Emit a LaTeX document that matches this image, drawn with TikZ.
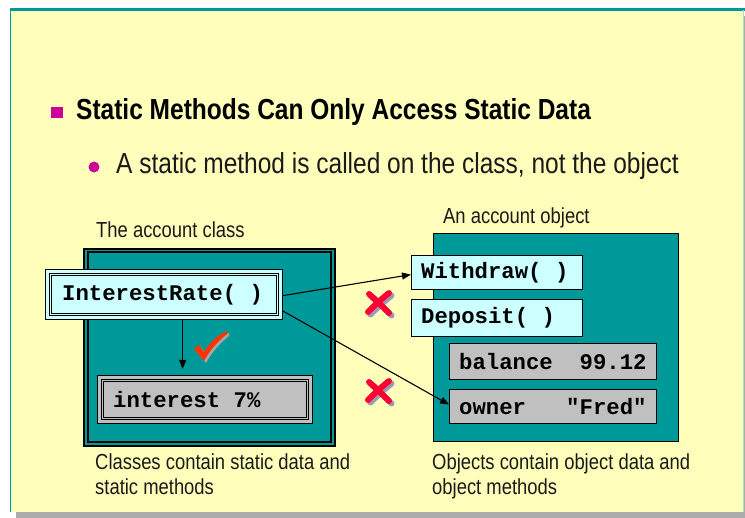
\documentclass[tikz,border=0pt]{standalone}
\usepackage{fontspec}
\setmainfont{Liberation Sans}[FakeStretch=0.845]
\setmonofont{Liberation Mono}
\usetikzlibrary{arrows.meta}
\definecolor{bg}{HTML}{FFFFBB}
\definecolor{tealc}{HTML}{009999}
\definecolor{cyanbox}{HTML}{CCFFFF}
\definecolor{graybox}{HTML}{C0C0C0}
\definecolor{mag}{HTML}{CC0099}
\definecolor{txt}{HTML}{1A1A1A}
\definecolor{xred}{HTML}{FF0033}
\definecolor{chk}{HTML}{FF3300}
\definecolor{xshadow}{HTML}{9A9AB8}
\tikzset{
  lbl/.style={anchor=base west, inner sep=0, text=txt, font=\fontsize{21.8}{24}\selectfont},
  mono/.style={anchor=west, inner sep=0, text=black, font=\ttfamily\bfseries\fontsize{22.3}{24}\selectfont},
  cbox/.style={draw=black, line width=1.2, fill=cyanbox, anchor=north west, inner sep=0},
  gbox/.style={draw=black, line width=1.2, fill=graybox, anchor=north west, inner sep=0},
  arr/.style={draw=black, line width=1.1, -{Triangle[length=9,width=7]}},
  xmark/.style={line width=6, line cap=round},
}
\begin{document}
\begin{tikzpicture}[x=1pt,y=-1pt]
\useasboundingbox (0,0) rectangle (745,518);
\fill[white] (0,0) rectangle (745,518);
% slide frame
\fill[gray!65] (16,16) rectangle (745,518);
\fill[bg] (10,10) rectangle (743,512);
\draw[tealc, line width=1] (10,512) -- (10,10);
\draw[tealc, line width=2.5] (10,9.5) -- (745,9.5);
\draw[tealc!50!green!40, line width=1] (743,10) -- (743,512);
% header
\fill[mag] (51,107) rectangle (62.5,118);
\node[anchor=base west, inner sep=0, text=black, font=\bfseries\fontsize{29}{32}\selectfont] (title) at (76,120) {Static Methods Can Only Access Static Data};
\fill[mag] (94,167) circle (5.5);
\node[anchor=base west, inner sep=0, text=txt, font=\fontsize{29}{32}\selectfont] (sub) at (116,174) {A static method is called on the class, not the object};
% class side
\node[lbl] (clsl) at (96,238) {The account class};
\node[draw=black, line width=1.6, fill=tealc, anchor=north west, inner sep=0, minimum width=251, minimum height=197] (cls) at (83,248) {};
\draw[line width=2] ([shift={(4.5,4.5)}]cls.north west) rectangle ([shift={(-4.5,-4.5)}]cls.south east);
\node[cbox, minimum width=237, minimum height=50] (ir) at (45,269) {};
\draw[line width=0.8, double=cyanbox, double distance=1.2] ([shift={(5.5,5.5)}]ir.north west) rectangle ([shift={(-5.5,-5.5)}]ir.south east);
\node[mono] (irt) at ([xshift=17]ir.west) {InterestRate(~)};
\node[gbox, minimum width=215, minimum height=48] (int) at (97,375) {};
\draw[line width=0.8, double=graybox, double distance=1.2] ([shift={(5.5,5.5)}]int.north west) rectangle ([shift={(-5.5,-5.5)}]int.south east);
\node[mono] (intt) at ([xshift=16]int.west) {interest 7\%};
\node[lbl] (clsc1) at (95,470) {Classes contain static data and};
\node[lbl] (clsc2) at (95,495) {static methods};
% object side
\node[lbl] (objl) at (443,224) {An account object};
\node[draw=black, line width=1.4, fill=tealc, anchor=north west, inner sep=0, minimum width=245, minimum height=208] (obj) at (433,233) {};
\node[cbox, minimum width=171, minimum height=34] (wd) at (411,255) {};
\node[mono] (wdt) at ([xshift=10]wd.west) {Withdraw(~)};
\node[cbox, minimum width=171, minimum height=37] (dep) at (411,299) {};
\node[mono] (dept) at ([xshift=10]dep.west) {Deposit(~)};
\node[gbox, minimum width=207, minimum height=36] (bal) at (449,343) {};
\node[mono] (balt) at ([xshift=10]bal.west) {balance~~99.12};
\node[gbox, minimum width=207, minimum height=34] (own) at (449,389) {};
\node[mono] (ownt) at ([xshift=10]own.west) {owner~~~"Fred"};
\node[lbl] (objc1) at (432,470) {Objects contain object data and};
\node[lbl] (objc2) at (432,495) {object methods};
% connectors
\draw[arr] ([yshift=-1]ir.east) -- ([yshift=-2]wd.west);
\draw[arr] ([yshift=9]ir.south east) -- ([yshift=2]own.west);
\draw[arr, shorten >=6] ([xshift=18.5]ir.south) -- ([xshift=18.5]ir.south |- int.north);
% check mark
\begin{scope}[shift={(2,2)}]
\fill[gray!70] (194,349) -- (199,345) -- (204,352) .. controls (210,342) and (218,335) .. (227,331) -- (227,334) .. controls (218,341) and (210,350) .. (204,361) -- cycle;
\end{scope}
\fill[chk] (194,349) -- (199,345) -- (204,352) .. controls (210,342) and (218,335) .. (227,331) -- (227,334) .. controls (218,341) and (210,350) .. (204,361) -- cycle;
% crosses
\foreach \cy in {303,391}{
  \begin{scope}[shift={(2.5,2.5)}]
  \draw[xshadow, xmark] (369,\cy-9) .. controls (378,\cy-1) .. (389,\cy+10);
  \draw[xshadow, xmark] (389,\cy-10) .. controls (377,\cy) .. (368,\cy+9);
  \end{scope}
  \draw[xred, xmark] (369,\cy-9) .. controls (378,\cy-1) .. (389,\cy+10);
  \draw[xred, xmark] (389,\cy-10) .. controls (377,\cy) .. (368,\cy+9);
}
\end{tikzpicture}
\end{document}
